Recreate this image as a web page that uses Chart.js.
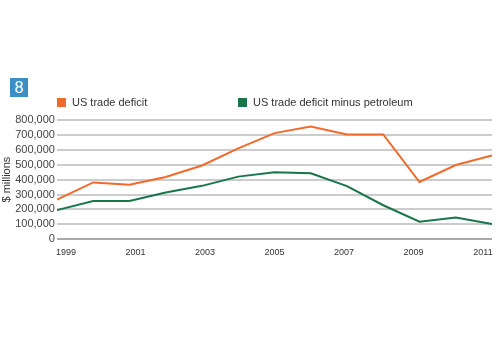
<!DOCTYPE html>
<html>
<head>
<meta charset="utf-8">
<script src="https://cdn.jsdelivr.net/npm/chart.js@4/dist/chart.umd.min.js"></script>
<style>
  body { margin: 0; background: #fff; font-family: "Liberation Sans", Arial, sans-serif; }
  #wrap { position: relative; width: 500px; height: 350px; }
  #badge { position: absolute; left: 10px; top: 78px; width: 18px; height: 19px; background: #3b8fc4;
           color: #fff; font-size: 16px; line-height: 19px; text-align: center; }
  .leg { position: absolute; top: 96px; font-size: 11px; color: #333; white-space: nowrap; }
  .leg span { display: inline-block; width: 9px; height: 9px; margin-right: 6px; vertical-align: -1px; }
  #chart { position: absolute; left: 0; top: 0; }
</style>
</head>
<body>
<div id="wrap">
  <canvas id="chart" width="500" height="350"></canvas>
  <div id="badge">8</div>
  <div class="leg" style="left:57px"><span style="background:#f26a2b"></span>US trade deficit</div>
  <div class="leg" style="left:238px"><span style="background:#17774a"></span>US trade deficit minus petroleum</div>
</div>
<script>
var years = [1999, 2000, 2001, 2002, 2003, 2004, 2005, 2006, 2007, 2008, 2009, 2010, 2011];
var tradeDeficit = [266000, 381000, 366000, 418000, 495000, 610000, 712000, 757000, 703000, 703000, 384000, 498000, 562000];
var minusPetroleum = [195000, 256000, 256000, 313000, 358000, 420000, 450000, 442000, 356000, 228000, 117000, 146000, 102000];
var yearTicks = [1999, 2001, 2003, 2005, 2007, 2009, 2011];
var valueTicks = [0, 100000, 200000, 300000, 400000, 500000, 600000, 700000, 800000];

function toPoints(vals) {
    return years.map(function (y, i) { return { x: y, y: vals[i] }; });
}

var ctx = document.getElementById('chart');
var chart = new Chart(ctx, {
    type: 'line',
    data: {
        datasets: [{
            label: 'US trade deficit',
            data: toPoints(tradeDeficit),
            borderColor: '#f26a2b',
            borderWidth: 2,
            pointRadius: 0,
            tension: 0
        }, {
            label: 'US trade deficit minus petroleum',
            data: toPoints(minusPetroleum),
            borderColor: '#17774a',
            borderWidth: 2,
            pointRadius: 0,
            tension: 0
        }]
    },
    options: {
        responsive: false,
        animation: false,
        layout: { padding: { top: 120, bottom: 92, right: 8, left: 0 } },
        plugins: { legend: { display: false }, tooltip: { enabled: false } },
        scales: {
            x: {
                type: 'linear', min: 1999, max: 2011, display: false
            },
            x2: {
                type: 'linear', position: 'bottom', min: 1998.74, max: 2011.26,
                afterBuildTicks: function (axis) {
                    axis.ticks = yearTicks.map(function (v) { return { value: v }; });
                },
                grid: { display: false },
                border: { display: false },
                ticks: {
                    color: '#333', font: { family: 'Liberation Sans', size: 9 },
                    maxRotation: 0, autoSkip: false, padding: 0,
                    callback: function (v) { return String(v); }
                }
            },
            y: {
                min: 0, max: 800000,
                afterBuildTicks: function (axis) {
                    axis.ticks = valueTicks.map(function (v) { return { value: v }; });
                },
                border: { display: false },
                grid: {
                    color: function (c) { return c.tick && c.tick.value === 0 ? '#aaaaaa' : '#cccccc'; },
                    lineWidth: 2,
                    drawTicks: false
                },
                ticks: {
                    color: '#444', font: { family: 'Liberation Sans', size: 11 }, padding: 2,
                    autoSkip: false,
                    callback: function (v) { return v.toLocaleString('en-US'); }
                },
                title: {
                    display: true, text: '$ millions', color: '#333',
                    font: { family: 'Liberation Sans', size: 11 }, padding: 0
                }
            }
        }
    }
});
</script>
</body>
</html>
